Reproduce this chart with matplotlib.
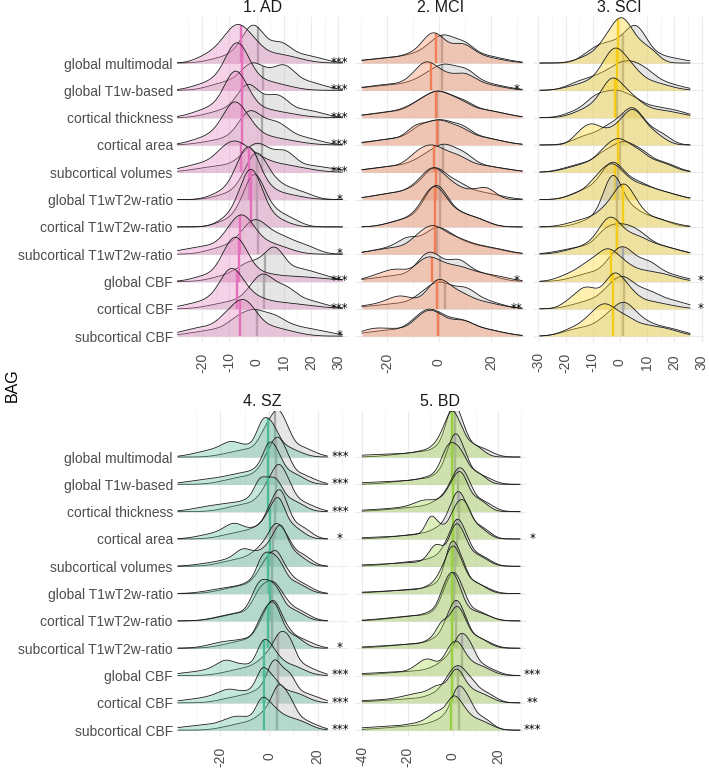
import numpy as np
import matplotlib.pyplot as plt

plt.rcParams['font.family'] = ['Liberation Sans', 'DejaVu Sans']

measures = ['global multimodal', 'global T1w-based', 'cortical thickness', 'cortical area',
            'subcortical volumes', 'global T1wT2w-ratio', 'cortical T1wT2w-ratio',
            'subcortical T1wT2w-ratio', 'global CBF', 'cortical CBF', 'subcortical CBF']

# BAG values (pseudo observations read from the ridges), one list per measure
ad_pat = [[-18, -13, -10, -8, -7, -5, -3, 0, 5, 12],
          [-19, -13, -10, -8.5, -7.5, -6.5, -5, -3, 1, 8],
          [-20, -14, -10.5, -9, -8, -7, -5.5, -3, 1, 9],
          [-20, -14, -11, -9, -8, -7, -5, -2, 2, 10],
          [-24, -17, -13, -10, -8, -6, -3, 1, 6, 14],
          [-13, -8, -5.5, -4.5, -3.5, -3, -2, -1, 1, 4, 11],
          [-11, -6.5, -4.5, -3.5, -2.5, -2, -1.5, -0.5, 0.5, 3, 8],
          [-24, -16, -11, -8, -6.5, -5, -3.5, -1, 3, 9],
          [-18, -12, -10, -8.5, -7.5, -6, -4, 0, 8, 20],
          [-22, -15, -12, -10, -9, -7.5, -5, -1, 5, 15],
          [-24, -17, -12, -9, -6.5, -5, -3.5, -1, 3, 10]]
ad_hc = [[-13, -7, -4, -2.5, -1.5, -0.5, 0.5, 2, 6, 8.5, 10.5, 15, 21],
         [-14, -8, -4, -2, -0.5, 2, 5, 8.5, 10, 12, 16, 22],
         [-15, -9, -5.5, -4, -3, -2, 0, 3, 6, 8, 10, 15, 21],
         [-15, -8, -5, -3.5, -2.5, -1, 0.5, 3, 5.5, 7.5, 10, 14, 20],
         [-18, -10, -5, -2, 0, 1.5, 3.5, 7, 10, 12, 17, 25],
         [-11, -5.5, -3, -1.5, -0.5, 0, 0.5, 1.5, 3, 5, 8, 12, 17],
         [-11, -6, -3.5, -2, -1.5, -1, -0.5, 0, 1, 2.5, 5, 8.5, 13],
         [-14, -8, -4.5, -2.5, -1, 0.5, 2, 4, 7, 10, 14, 19],
         [-12, -6, -3, 0, 3.5, 5.5, 6.5, 7.5, 9, 14, 18, 24],
         [-13, -6, -2, 0.5, 2, 3, 4.5, 7, 10, 12, 16, 22],
         [-20, -12, -8, -5, -2, -0.5, 1.5, 5, 7, 11, 16, 23]]
ad_pat_med = [-5.6, -5.5, -5.5, -5.5, -5.6, -2.6, -2, -6, -6.4, -7, -6.2]
ad_hc_med = [0.4, 2.4, 2.4, 2, 2, 0, 0, 0.4, 3, 2.6, 0]
ad_stars = ['***', '***', '***', '***', '***', '*', '', '*', '***', '***', '*']

mci_pat = [[-25, -15, -9, -5, -3, -1.5, 0, 3, 7, 10, 13, 20],
           [-25, -16, -10, -7, -5, -3.5, -1, 2, 6, 10, 13, 20],
           [-24, -15, -10, -6, -3, -1, 1, 3.5, 6.5, 10, 15, 22],
           [-24, -15, -10, -7.5, -4, -1.5, 0.5, 3, 6, 9.5, 14, 21],
           [-24, -15, -10, -7, -4.5, -2.5, -0.5, 2, 5.5, 9, 14, 22],
           [-22, -14, -9, -5.5, -3.5, -2, -0.5, 1.5, 5, 9, 15, 19],
           [-16, -10, -6.5, -4.5, -3, -2, -1, 0, 1.5, 3.5, 7, 11, 16],
           [-22, -14, -9, -6, -3.5, -2, 0, 2.5, 6, 10, 15, 22],
           [-24, -18, -14, -8, -5.5, -3.5, -1, 2, 6, 10, 15, 22],
           [-25, -17, -14, -7, -3, -1, 0.5, 2.5, 5, 9, 13, 20],
           [-26, -20, -12, -8, -5, -3, -1, 2, 6, 10, 14, 21]]
mci_hc = [[-24, -14, -8, -3.5, -0.5, 1.5, 3, 5.5, 8.5, 11, 15, 22],
          [-24, -14, -8, -4, -0.5, 1.5, 3.5, 6, 9, 11.5, 15, 22],
          [-23, -14, -9, -5.5, -2.5, -0.5, 1.5, 4, 7, 10.5, 15, 22],
          [-22, -14, -9, -6, -3, -0.5, 1.5, 4, 7, 10, 14, 21],
          [-23, -14, -8.5, -4.5, -1.5, 1, 2.5, 4.5, 7.5, 10.5, 14, 22],
          [-22, -14, -9, -5, -3, -1.5, 0, 2, 5, 8.5, 13, 20],
          [-16, -10, -6, -4, -2.5, -1.5, -0.5, 0.5, 1.5, 3.5, 7, 11, 16],
          [-22, -15, -12, -8, -4, -2, 0, 2, 5, 9, 14, 21],
          [-22, -13, -8, -5, -3.5, -2, 0.5, 4, 7, 9, 13, 19],
          [-22, -12, -7, -3.5, -1, 1, 3, 6, 9, 11.5, 15, 21],
          [-25, -16, -10, -7, -4.5, -2.5, -0.5, 2.5, 6, 10, 14, 21]]
mci_pat_med = [-1.2, -3, -1.2, -0.8, -2, -1.2, -1.5, -1.5, -2.8, -0.8, -0.4]
mci_hc_med = [1, 1, -0.6, -0.5, 1.7, 0.3, 0.5, -0.6, 0.4, 2.3, -0.4]
mci_stars = ['', '*', '', '', '', '', '', '', '*', '**', '']

sci_pat = [[-12, -7, -4.5, -2.5, -1, 0, 1, 2, 3.5, 5.5, 8.5, 12],
           [-15, -9, -6, -4, -2.5, -1.5, -0.5, 1, 3, 5.5, 9, 15],
           [-14, -9, -6, -4, -3, -2, -0.5, 1.5, 4, 7, 12, 19],
           [-15, -11.5, -9.5, -6, -2, 1, 3, 4.5, 5.5, 7, 10, 14],
           [-16, -10, -6.5, -4, -2, -0.5, 1, 3, 5.5, 8, 12, 17],
           [-15, -10, -7.5, -5.5, -3.5, -2.5, -1, 1, 4, 8, 12, 18],
           [-15, -9, -5.5, -2.5, -0.5, 0.5, 1.5, 2.5, 4, 6.5, 10, 16],
           [-16, -10, -7, -5, -3.5, -2.5, -1, 1.5, 4.5, 8, 12, 18],
           [-19, -14, -11, -8, -6, -4.5, -3, -1, 2, 6, 11, 17],
           [-18, -14, -12, -9, -5, -3, -2, -1, 1, 4, 8, 15],
           [-18, -13, -10, -7.5, -6, -4.5, -2.5, 0, 3, 7, 12, 18]]
sci_hc = [[-12, -8, -5, -2, 0.5, 3, 4.5, 5.5, 7, 9, 12, 19],
          [-16, -11, -7, -3.5, -1, 1, 3, 5, 7, 10, 13, 19],
          [-16, -11, -8.5, -6, -3.5, -1.5, 0.5, 3, 6, 10, 15, 21],
          [-14, -9, -5, -2, 0.5, 2.5, 4, 5, 6.5, 8.5, 12, 16],
          [-17, -11, -7, -4, -1.5, 0.5, 2, 4, 6.5, 9, 13, 18],
          [-15, -10, -6.5, -4.5, -3, -2, -0.5, 1.5, 4.5, 8, 12, 18],
          [-12, -7, -4.5, -3.5, -3, -2.5, -2, -1, 0.5, 3, 6, 10, 15],
          [-18, -11, -7, -4.5, -2.5, -0.5, 1.5, 3.5, 5.5, 8.5, 12, 18],
          [-14, -8, -4, -1.5, 0, 1.5, 3, 5, 8, 11, 14, 20],
          [-14, -8, -4.5, -2, 0, 1.5, 3, 5.5, 8.5, 12, 16, 22],
          [-17, -11, -6.5, -3.5, -1, 0.5, 2, 3.5, 6, 9.5, 14, 20]]
sci_pat_med = [-0.6, -1.2, -1.8, -0.6, -0.8, -1.8, 1, -1.2, -3.3, -2.5, -2.6]
sci_hc_med = [1, 1, -1.2, 1.2, 0, -0.6, -1.2, -1, 1.2, 1.5, 1.1]
sci_stars = ['', '', '', '', '', '', '', '', '*', '*', '']

sz_pat = [[-27, -20, -16, -12, -7, -4, -2.5, -1, 0.5, 2.5, 5, 10],
          [-28, -19, -13, -8, -4, -1.5, 0, 1, 2.5, 4.5, 7.5, 12],
          [-26, -18, -12, -7, -4.5, -3, -1, 1, 2.5, 4.5, 7.5, 12],
          [-24, -17, -14, -9, -4, -1, 1.5, 3, 4, 5.5, 8, 12],
          [-22, -14, -11, -7, -3, 0, 2.5, 4, 5, 6.5, 9, 13],
          [-20, -12, -7, -4, -2.5, -1, 0.5, 2, 3.5, 5.5, 8.5, 13],
          [-18, -11, -7, -5, -3.5, -2, -0.5, 1, 2.5, 4.5, 7.5, 12],
          [-20, -13, -7, -4, -2, -0.5, 1, 2, 3, 5, 8, 12],
          [-30, -21, -18, -13, -8, -4, -2.5, -1, 1, 3.5, 7, 12],
          [-30, -21, -17, -12, -7, -4, -2.5, -1, 1.5, 4, 8, 13],
          [-32, -22, -16, -12, -7, -4, -2.5, -0.5, 2, 5, 9, 14]]
sz_hc = [[-14, -7, -3, -1, 1, 2.5, 3.5, 4.5, 6, 8, 11, 16],
         [-15, -8, -3.5, -1, 1, 2.5, 3.5, 4.5, 6, 8, 11, 16],
         [-14, -7, -3, -0.5, 1.5, 3, 4, 5, 6.5, 8.5, 11, 16],
         [-15, -8, -3.5, -0.5, 1.5, 3, 4, 5, 6, 8, 11, 15],
         [-16, -9, -5, -2, 0.5, 2, 3, 4.5, 6, 8, 11, 15],
         [-16, -9, -5, -2.5, -0.5, 1, 2.5, 3.5, 5, 7.5, 10.5, 15],
         [-17, -10, -6, -4, -2, -0.5, 1, 2.5, 4, 6.5, 9.5, 14],
         [-15, -8, -4.5, -2, -0.5, 1, 2, 3, 4.5, 7, 10, 15],
         [-14, -7, -3, 0, 2.5, 4, 5, 6.5, 8, 9.5, 12, 17],
         [-15, -8, -3.5, -0.5, 1.5, 2.5, 3.5, 5.5, 7.5, 9.5, 12.5, 18],
         [-14, -7, -3, 0, 2.5, 3.5, 4.5, 6, 7.5, 9.5, 12, 17]]
sz_pat_med = [-0.3, -0.3, -0.3, 0.2, 0.2, -0.3, 0.2, -0.3, -2.1, -2.1, -2.1]
sz_hc_med = [2.5, 3, 3, 2.5, 1.5, 1.3, 1.3, 1.1, 3.6, 3.6, 3.4]
sz_stars = ['***', '***', '***', '*', '', '', '', '*', '***', '***', '***']

bd_pat = [[-35, -18, -10, -6, -3.5, -1.5, -0.5, 0.5, 2, 4, 7, 11],
          [-32, -16, -9, -5, -3, -1.5, 0, 1.5, 3, 5, 8, 12],
          [-30, -17, -13, -7, -3, -0.5, 1.5, 3, 4, 6, 9, 13],
          [-28, -13, -10, -8, -3, 0, 2, 3.5, 5, 6.5, 9, 13],
          [-30, -14, -9, -7, -3, -0.5, 1, 2, 3.5, 5.5, 8.5, 13],
          [-30, -14, -8, -5, -2.5, -1, 0, 1, 2.5, 4.5, 7.5, 12],
          [-25, -14, -8, -5, -3, -1.5, -0.5, 0.5, 2, 4, 7.5, 13],
          [-28, -14, -8, -5.5, -3, -0.5, 1, 2, 3.5, 5.5, 8.5, 13],
          [-36, -20, -14, -11, -6, -2.5, -0.5, 1.5, 3, 5.5, 9, 14],
          [-38, -22, -17, -10, -7, -3, -0.5, 1.5, 3, 5.5, 9, 14],
          [-36, -22, -14, -9, -6, -2.5, -0.5, 1, 3, 5.5, 9, 14]]
bd_hc = [[-20, -10, -5, -2.5, -1, 0, 1, 2, 3.5, 5.5, 9, 14],
         [-20, -10, -5, -2.5, -0.5, 0.5, 1.5, 2.5, 4, 6, 9, 14],
         [-22, -11, -6, -2.5, 0, 1.5, 3, 4, 5.5, 7.5, 10.5, 15],
         [-20, -10, -5.5, -2, 0, 1.5, 2.5, 3.5, 5, 7, 10, 14],
         [-22, -12, -6, -3, -0.5, 1, 2, 3, 4.5, 6.5, 9.5, 14],
         [-24, -12, -6, -3, -1.5, -0.5, 0.5, 1.5, 3, 5, 8, 13],
         [-22, -12, -6, -4, -2, -0.5, 0.5, 1.5, 3, 5, 8, 13],
         [-22, -11, -6, -3, -1, 0.5, 1.5, 2.5, 4, 6, 9, 14],
         [-24, -12, -6, -2.5, 0.5, 2.5, 3.5, 5, 6.5, 8.5, 11, 16],
         [-26, -13, -7, -3.5, -1, 1, 2.5, 4, 6, 8.5, 11.5, 16],
         [-24, -12, -6, -2, 0.5, 2, 3, 4.5, 6, 8, 11, 15]]
bd_pat_med = [-0.3, -0.3, 0, 0, 0, -0.3, -0.6, -0.6, -0.6, -0.6, -1]
bd_hc_med = [0.9, 0.9, 2.3, 2.5, 1.6, 1, 0.5, 1.3, 3.8, 2.3, 2.6]
bd_stars = ['', '', '', '*', '', '', '', '', '***', '**', '***']

titles = ['1. AD', '2. MCI', '3. SCI', '4. SZ', '5. BD']
fills = ['#e78ac3', '#fc8d62', '#ffd92f', '#66c2a5', '#a6d854']
med_colors = ['#e46fbb', '#f07f57', '#f5cc1a', '#4fba96', '#98cf45']
data_range = [(-29, 31.5), (-29.6, 32), (-29.4, 25.7), (-37.5, 24), (-40, 29.5)]
bandwidth = [3.3, 3.3, 3.0, 2.2, 2.2]
star_x = [30.5, 30, 29.5, 29.2, 35.2]
xlims = [(-29.2, 33.6), (-32.3, 33.5), (-31.6, 31.25), (-37.9, 32.5), (-43.2, 32.2)]
major_ticks = [np.arange(-20, 31, 10), np.array([-20, 0, 20]), np.arange(-30, 31, 10),
               np.array([-20, 0, 20]), np.array([-40, -20, 0, 20])]

panels = [(ad_pat, ad_hc, ad_pat_med, ad_hc_med, ad_stars),
          (mci_pat, mci_hc, mci_pat_med, mci_hc_med, mci_stars),
          (sci_pat, sci_hc, sci_pat_med, sci_hc_med, sci_stars),
          (sz_pat, sz_hc, sz_pat_med, sz_hc_med, sz_stars),
          (bd_pat, bd_hc, bd_pat_med, bd_hc_med, bd_stars)]

SCALE = 27  # ridge height (rows) per unit density


def kde(vals, grid, bw):
    # variable bandwidth: sparse tail values get wider kernels
    s = np.sort(np.asarray(vals, float))
    gaps = np.empty_like(s)
    gaps[1:-1] = (s[2:] - s[:-2]) / 2
    gaps[0] = s[1] - s[0]
    gaps[-1] = s[-1] - s[-2]
    h = np.maximum(bw, 0.85 * gaps)[:, None]
    z = (grid[None, :] - s[:, None]) / h
    return (np.exp(-0.5 * z ** 2) / h).sum(0) / (len(s) * np.sqrt(2 * np.pi))


W, H = 709, 770
fig = plt.figure(figsize=(W / 100, H / 100), dpi=100)

# panel boxes in pixels: left, top
boxes = [(177, 16.6), (355, 16.6), (534, 16.6), (177, 410.6), (355, 410.6)]
pw, ph = 171, 325

for p in range(5):
    left, top = boxes[p]
    ax = fig.add_axes([left / W, 1 - (top + ph) / H, pw / W, ph / H])
    pat, hc, pat_med, hc_med, stars = panels[p]
    grid = np.linspace(data_range[p][0], data_range[p][1], 400)
    z = 2
    for i in range(11):
        base = 10 - i
        for vals, med, fc, lc in [(hc[i], hc_med[i], '#bebebe', '#a8a8a8'),
                                  (pat[i], pat_med[i], fills[p], med_colors[p])]:
            d = kde(vals, grid, bandwidth[p]) * SCALE
            ax.fill_between(grid, base, base + d, color=fc, alpha=0.38, lw=0, zorder=z)
            ax.plot([med, med], [base, base + np.interp(med, grid, d)], color=lc,
                    lw=1.7, solid_capstyle='butt', zorder=z + 0.1)
            ax.plot(grid, base + d, color='#1a1a1a', lw=0.6, zorder=z + 0.2)
            z += 1
        if stars[i]:
            ax.text(star_x[p], base + 0.02, stars[i], ha='center', va='center',
                    fontsize=8.5, family='DejaVu Sans', color='black', zorder=100,
                    clip_on=False)

    ax.set_xlim(*xlims[p])
    ax.set_ylim(-0.2, 11.7)
    ax.set_xticks(major_ticks[p])
    step = major_ticks[p][1] - major_ticks[p][0]
    minors = np.arange(major_ticks[p][0] - step / 2, xlims[p][1], step)
    ax.set_xticks(minors[(minors > xlims[p][0]) & (minors < xlims[p][1])], minor=True)
    ax.set_xticklabels([str(int(t)) for t in major_ticks[p]], rotation=90,
                       va='center', fontsize=10, color='#4d4d4d')
    ax.set_yticks(range(11))
    if p in (0, 3):
        ax.set_yticklabels(measures[::-1], fontsize=10, color='#4d4d4d')
    else:
        ax.set_yticklabels([])
    ax.tick_params(axis='both', which='both', length=0)
    ax.tick_params(axis='x', pad=15)
    ax.tick_params(axis='y', pad=3)
    ax.grid(True, which='major', color='#ebebeb', lw=0.8, zorder=0)
    ax.grid(True, which='minor', axis='x', color='#f2f2f2', lw=0.5, zorder=0)
    ax.set_axisbelow(True)
    for s in ax.spines.values():
        s.set_visible(False)
    ax.set_title(titles[p], fontsize=11.5, color='#1a1a1a', pad=3)

fig.text(12 / W, 0.5, 'BAG', rotation=90, ha='center', va='center', fontsize=11.5)

fig.savefig('out.png', dpi=100)
